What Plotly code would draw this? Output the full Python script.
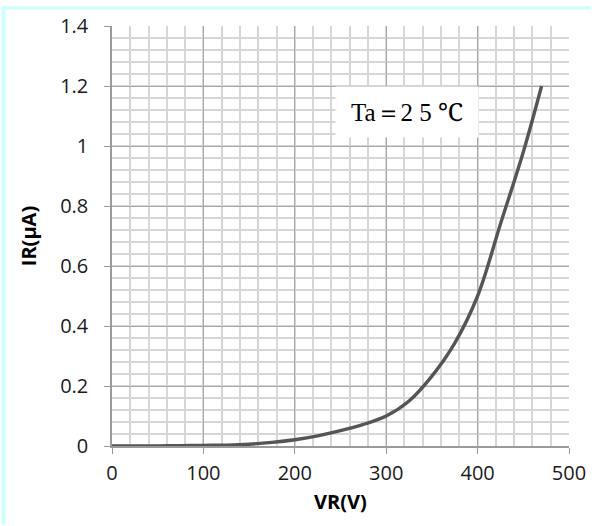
import plotly.graph_objects as go

# Data
vr = [0, 25, 50, 75, 100, 125, 150, 175, 200, 225, 250, 275, 300, 325,
      350, 375, 400, 425, 450, 470]
ir = [0, 0.0002, 0.0005, 0.001, 0.002, 0.003, 0.006, 0.012, 0.021, 0.034,
      0.051, 0.072, 0.10, 0.15, 0.233, 0.343, 0.50, 0.74, 0.98, 1.20]

x_ticks = [0, 100, 200, 300, 400, 500]
y_ticks = [0, 0.2, 0.4, 0.6, 0.8, 1.0, 1.2, 1.4]
y_tick_text = ["0", "0.2", "0.4", "0.6", "0.8", "1", "1.2", "1.4"]

annotation_text = "Ta＝2 5 ℃"
x_title = "VR(V)"
y_title = "IR(μA)"

W, H = 598, 526
ML, MR, MT, MB = 112, 22, 20, 80

fig = go.Figure()
fig.add_trace(go.Scatter(
    x=vr, y=ir, mode="lines",
    line=dict(color="#555555", width=3.4, shape="spline", smoothing=1.0),
    hoverinfo="skip", showlegend=False,
))

tick_font = dict(family="Open Sans, sans-serif", size=20, color="#1a1a1a")
title_font = dict(family="Open Sans, sans-serif", size=20, color="#000000")

fig.update_xaxes(
    range=[0, 500], tickvals=x_ticks, ticktext=[str(v) for v in x_ticks],
    showgrid=True, gridcolor="#a8a8a8", gridwidth=1.3,
    minor=dict(dtick=20, showgrid=True, gridcolor="#d6d6d6", gridwidth=1.5),
    showline=True, linecolor="#9a9a9a", linewidth=1.5,
    ticks="outside", ticklen=6, tickcolor="#9a9a9a", tickwidth=1.3,
    tickfont=tick_font, zeroline=False, ticklabelstandoff=2,
    title=dict(text="<b>" + x_title + "</b>", font=title_font, standoff=10),
)
fig.update_yaxes(
    range=[0, 1.4], tickvals=y_ticks, ticktext=y_tick_text,
    showgrid=True, gridcolor="#a8a8a8", gridwidth=1.3,
    minor=dict(dtick=0.04, showgrid=True, gridcolor="#d6d6d6", gridwidth=1.5),
    showline=True, linecolor="#9a9a9a", linewidth=1.5,
    ticks="outside", ticklen=6, tickcolor="#9a9a9a", tickwidth=1.3,
    tickfont=tick_font, zeroline=False, ticklabelstandoff=12,
    title=dict(text="<b>" + y_title + "</b>", font=title_font, standoff=18),
)

fig.add_annotation(
    x=322.8, y=1.114, xref="x", yref="y", text=annotation_text,
    showarrow=False, bgcolor="white", width=140, height=48,
    font=dict(family="Liberation Serif, Noto Serif, serif", size=25, color="#000000"),
)

pw = W - ML - MR
ph = H - MT - MB
# light cyan frame on left and top edges
fig.add_shape(type="rect", xref="paper", yref="paper",
              x0=-ML / pw, x1=(4 - ML) / pw, y0=-MB / ph, y1=(H - MB) / ph,
              fillcolor="#ccffff", line_width=0, layer="above")
fig.add_shape(type="rect", xref="paper", yref="paper",
              x0=-ML / pw, x1=(W - ML) / pw, y0=(H - 3 - MB) / ph, y1=(H - MB) / ph,
              fillcolor="#ccffff", line_width=0, layer="above")

fig.update_layout(
    width=W, height=H,
    margin=dict(l=ML, r=MR, t=MT, b=MB),
    paper_bgcolor="white", plot_bgcolor="white",
)

fig.write_html("out.html")
